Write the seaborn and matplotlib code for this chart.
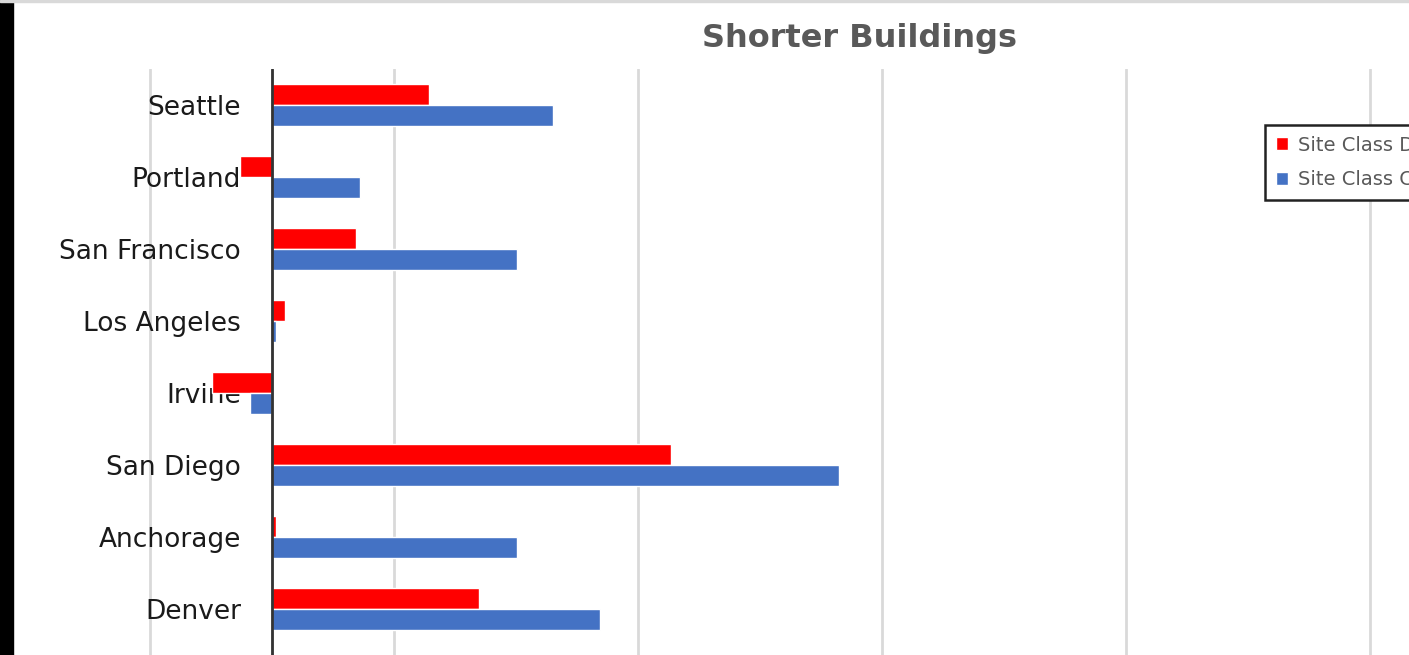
import pandas as pd
import matplotlib.pyplot as plt
import seaborn as sns
from matplotlib.patches import Rectangle

# Data (units: one gridline step near zero = 1)
cities = ['Seattle', 'Portland', 'San Francisco', 'Los Angeles', 'Irvine',
          'San Diego', 'Anchorage', 'Denver']
site_d = [1.29, -0.26, 0.69, 0.11, -0.49, 3.27, 0.03, 1.70]
site_c = [2.30, 0.72, 2.01, 0.03, -0.18, 4.65, 2.01, 2.69]
series = ['Site Class D', 'Site Class C']
grid_x = [-1, 0, 1, 3, 5, 7, 9]

df = pd.DataFrame({
    'City': cities * 2,
    'Value': site_d + site_c,
    'Series': [series[0]] * len(cities) + [series[1]] * len(cities),
})

sns.set_style('white')
plt.rcParams['font.family'] = ['DejaVu Sans']

W, H = 1409, 655
fig = plt.figure(figsize=(W / 100, H / 100), dpi=100)

# axes placed in pixels: x=0 at 272px, 122px per unit; rows 72px apart from y=69
x0, unit = 272, 122
xlo, xhi = -1.1, 10
ytop, row = 69, 72
ylo, yhi = -0.5, 8.0
left = x0 + xlo * unit
right = x0 + xhi * unit
bottom_px = ytop + (yhi - ylo) * row
ax = fig.add_axes([left / W, 1 - bottom_px / H, (right - left) / W, (bottom_px - ytop) / H])

sns.barplot(data=df, x='Value', y='City', hue='Series', hue_order=series,
            order=cities, orient='h', palette=['#FF0000', '#4472C4'],
            width=0.57, saturation=1, ax=ax, zorder=3)

ax.set_xlim(xlo, xhi)
ax.set_ylim(yhi, ylo)
ax.set_xticks(grid_x)
ax.set_xticklabels([])
ax.grid(axis='x', color='#d9d9d9', linewidth=2, zorder=0)
ax.set_axisbelow(True)
ax.axvline(0, color='#333333', linewidth=2, zorder=4)
for s in ax.spines.values():
    s.set_visible(False)
ax.set_xlabel('')
ax.set_ylabel('')
# labels end about 31px left of the zero line (pad is in points, from the axes edge)
label_right = 241
ax.tick_params(axis='y', length=0, pad=-(label_right - left) * 0.72,
               labelsize=19, labelcolor='#1a1a1a')
ax.tick_params(axis='x', length=0)

leg = ax.legend(loc='upper left', bbox_to_anchor=(1265 / W, 1 - 125 / H),
                bbox_transform=fig.transFigure, frameon=True, fancybox=False,
                fontsize=14, handlelength=0.65, handleheight=0.65,
                handletextpad=0.5, labelspacing=0.8, borderpad=0.55,
                borderaxespad=0)
leg.get_frame().set_edgecolor('#222222')
leg.get_frame().set_linewidth(1.8)
leg.get_frame().set_alpha(1)
for t in leg.get_texts():
    t.set_color('#595959')

fig.text(860 / W, 1 - 38 / H, 'Shorter Buildings', ha='center', va='center',
         fontsize=23, fontweight='bold', color='#595959')

# black strip on the left and thin gray border at the top
fig.patches.append(Rectangle((0, 0), 13 / W, 1, transform=fig.transFigure,
                             color='black', zorder=10))
fig.patches.append(Rectangle((0, 1 - 2 / H), 1, 2 / H, transform=fig.transFigure,
                             color='#d9d9d9', zorder=10))

fig.savefig('out.png', dpi=100)
